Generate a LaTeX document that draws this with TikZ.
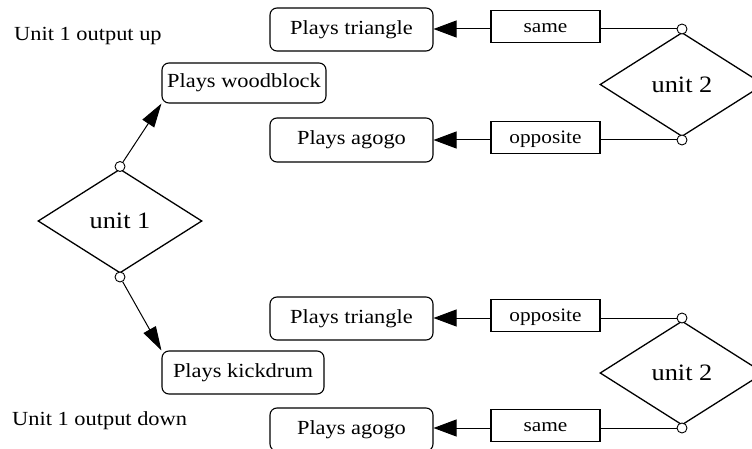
\documentclass[tikz,border=0pt]{standalone}
\usepackage{fontspec}
\setmainfont{Liberation Serif}[FakeStretch=1.12]
\usetikzlibrary{shapes.geometric,arrows.meta}
\tikzset{
  lbl/.style={font=\fontsize{20}{24}\selectfont, inner sep=0pt},
  playbox/.style={draw, rounded corners=7pt, line width=1.1pt, minimum width=163pt,
    minimum height=43pt, inner sep=0pt, text height=13.5pt, text depth=4pt,
    font=\fontsize{20}{24}\selectfont},
  modebox/.style={draw, line width=1.1pt, minimum width=109pt, minimum height=32pt,
    inner sep=0pt, text height=14pt, text depth=2pt, font=\fontsize{19}{23}\selectfont},
  unit/.style={draw, diamond, line width=1.3pt, minimum width=164pt, minimum height=104pt,
    inner sep=0pt, font=\fontsize{23.5}{28}\selectfont},
  port/.style={draw, circle, fill=white, line width=0.9pt, minimum size=10pt, inner sep=0pt},
  wire/.style={line width=1pt},
  sidetip/.style={wire, -{Triangle[length=23pt,width=17pt]}},
  slanttip/.style={wire, -{Triangle[length=24pt,width=14pt]}}
}
\begin{document}
\begin{tikzpicture}[x=1pt, y=-1pt]
\useasboundingbox (0,0) rectangle (752,449);

% captions
\node[lbl, anchor=west] (capup) at (14,36) {Unit 1 output up};
\node[lbl, anchor=west] (capdown) at (12,421) {Unit 1 output down};

% unit 1 and its outputs
\node[unit] (u1) at (120,221) {unit 1};
\node[port] (u1t) at (120,166.5) {};
\node[port] (u1b) at (120,277) {};
\node[playbox, minimum width=164pt, minimum height=40pt] (wood) at (244,83) {Plays woodblock};
\node[playbox, minimum width=162pt] (kick) at (243,372.5) {Plays kickdrum};
\draw[slanttip] (u1t) -- (wood.south west);
\draw[slanttip] (u1b) -- (kick.north west);

% unit 2, upper case
\node[unit] (u2a) at (682,84.5) {unit 2};
\node[port] (u2at) at (682,29) {};
\node[port] (u2ab) at (682,140) {};
\node[playbox] (tria) at (351.5,29.5) {Plays triangle};
\node[playbox, minimum height=44pt] (agoa) at (351.5,140) {Plays agogo};
\node[modebox] (samea) at (545.5,26.5) {same};
\node[modebox] (oppa) at (545.5,137.5) {opposite};
\draw[wire] (u2at) -- (u2at -| samea.east);
\draw[wire] (u2ab) -- (u2ab -| oppa.east);
\draw[sidetip] (samea.west |- u2at) -- (tria.east |- u2at);
\draw[sidetip] (oppa.west |- u2ab) -- (agoa.east |- u2ab);

% unit 2, lower case
\node[unit] (u2b) at (682,373) {unit 2};
\node[port] (u2bt) at (682,318) {};
\node[port] (u2bb) at (682,428) {};
\node[playbox] (trib) at (351.5,318.5) {Plays triangle};
\node[playbox] (agob) at (351.5,429.5) {Plays agogo};
\node[modebox] (oppb) at (545.5,315.5) {opposite};
\node[modebox] (sameb) at (545.5,425.5) {same};
\draw[wire] (u2bt) -- (u2bt -| oppb.east);
\draw[wire] (u2bb) -- (u2bb -| sameb.east);
\draw[sidetip] (oppb.west |- u2bt) -- (trib.east |- u2bt);
\draw[sidetip] (sameb.west |- u2bb) -- (agob.east |- u2bb);
\end{tikzpicture}
\end{document}
